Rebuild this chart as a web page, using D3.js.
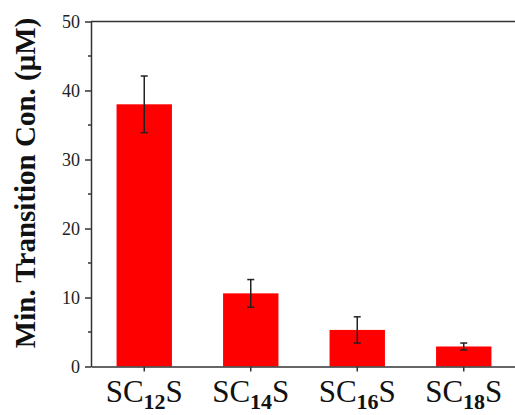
<!DOCTYPE html>
<html>
<head>
<meta charset="utf-8">
<script src="https://cdn.jsdelivr.net/npm/d3@7"></script>
<style>
  body { margin: 0; background: #fff; }
  svg { display: block; font-family: "Liberation Serif", "Times New Roman", serif; }
</style>
</head>
<body>
<div class="chart"></div>
<script>
// chart values
const categories = ['12', '14', '16', '18']   // chain length, shown as SC<sub>n</sub>S
const values = [38.0, 10.6, 5.3, 2.9]
const errors = [4.1, 2.0, 1.9, 0.5]
const yTicks = [0, 10, 20, 30, 40, 50]
const yMinorTicks = [5, 15, 25, 35, 45]

const W = 515
const H = 415
const margin = { top: 21.5, right: -2, bottom: 48.5, left: 91 }
const width = W - margin.left - margin.right
const height = H - margin.top - margin.bottom

const svg = d3.select('.chart')
  .append('svg')
    .attr('width', W)
    .attr('height', H)
  .append('g')
    .attr('transform', `translate(${margin.left}, ${margin.top})`)

const yScale = d3.scaleLinear()
  .domain([0, 50])
  .range([height, 0])

const xScale = d3.scaleBand()
  .domain(categories)
  .range([0, width])
  .paddingInner(0.48)
  .paddingOuter(0.24)

// bars
svg.selectAll('rect.bar')
  .data(values)
  .enter()
  .append('rect')
    .attr('class', 'bar')
    .attr('x', (d, i) => xScale(categories[i]))
    .attr('width', xScale.bandwidth())
    .attr('y', d => yScale(d))
    .attr('height', d => height - yScale(d))
    .attr('fill', '#ff0000')

// error bars
const cx = i => xScale(categories[i]) + xScale.bandwidth() / 2
const err = svg.selectAll('g.err')
  .data(values)
  .enter()
  .append('g')
    .attr('class', 'err')
    .attr('stroke', '#222')
    .attr('stroke-width', 1.5)
err.append('line')
  .attr('x1', (d, i) => cx(i)).attr('x2', (d, i) => cx(i))
  .attr('y1', (d, i) => yScale(d + errors[i]))
  .attr('y2', (d, i) => yScale(d - errors[i]))
err.append('line')
  .attr('x1', (d, i) => cx(i) - 3.5).attr('x2', (d, i) => cx(i) + 3.5)
  .attr('y1', (d, i) => yScale(d + errors[i]))
  .attr('y2', (d, i) => yScale(d + errors[i]))
err.append('line')
  .attr('x1', (d, i) => cx(i) - 3.5).attr('x2', (d, i) => cx(i) + 3.5)
  .attr('y1', (d, i) => yScale(d - errors[i]))
  .attr('y2', (d, i) => yScale(d - errors[i]))

// y axis with major and minor ticks
const yAxis = svg.append('g')
  .call(d3.axisLeft(yScale).tickValues(yTicks).tickSize(6).tickPadding(5).tickSizeOuter(0))
yAxis.select('.domain').attr('stroke', '#333').attr('stroke-width', 1.5)
yAxis.selectAll('.tick line').attr('stroke', '#333').attr('stroke-width', 1.5)
yAxis.selectAll('.tick text')
  .attr('font-size', 18)
  .attr('fill', '#222')
  .attr('font-family', '"Liberation Serif", serif')

svg.append('g')
  .selectAll('line')
  .data(yMinorTicks)
  .enter()
  .append('line')
    .attr('x1', -3).attr('x2', 0)
    .attr('y1', d => yScale(d)).attr('y2', d => yScale(d))
    .attr('stroke', '#333')
    .attr('stroke-width', 1.5)

// top frame line
svg.append('line')
  .attr('x1', 0).attr('x2', width)
  .attr('y1', 0).attr('y2', 0)
  .attr('stroke', '#333').attr('stroke-width', 1.5)

// x axis
const xAxis = svg.append('g')
  .attr('transform', `translate(0, ${height})`)
  .call(d3.axisBottom(xScale).tickSize(5).tickSizeOuter(0).tickFormat(''))
xAxis.select('.domain').attr('stroke', '#333').attr('stroke-width', 1.5)
xAxis.selectAll('.tick line').attr('stroke', '#333').attr('stroke-width', 1.5)

// category labels SC_nS
const lbl = svg.append('g')
  .selectAll('text')
  .data(categories)
  .enter()
  .append('text')
    .attr('x', d => xScale(d) + xScale.bandwidth() / 2)
    .attr('y', height + 35)
    .attr('text-anchor', 'middle')
    .attr('font-size', 31)
    .attr('fill', '#111')
lbl.append('tspan').text('SC')
lbl.append('tspan')
  .attr('font-size', 22)
  .attr('font-weight', 'bold')
  .attr('dy', 7)
  .text(d => d)
lbl.append('tspan')
  .attr('dy', -7)
  .text('S')

// y title
svg.append('text')
  .attr('transform', `translate(${25 - margin.left}, ${height / 2 - 11}) rotate(-90)`)
  .attr('text-anchor', 'middle')
  .attr('dominant-baseline', 'central')
  .attr('font-size', 29)
  .attr('font-weight', 'bold')
  .attr('fill', '#111')
  .text('Min. Transition Con. (μM)')
</script>
</body>
</html>
